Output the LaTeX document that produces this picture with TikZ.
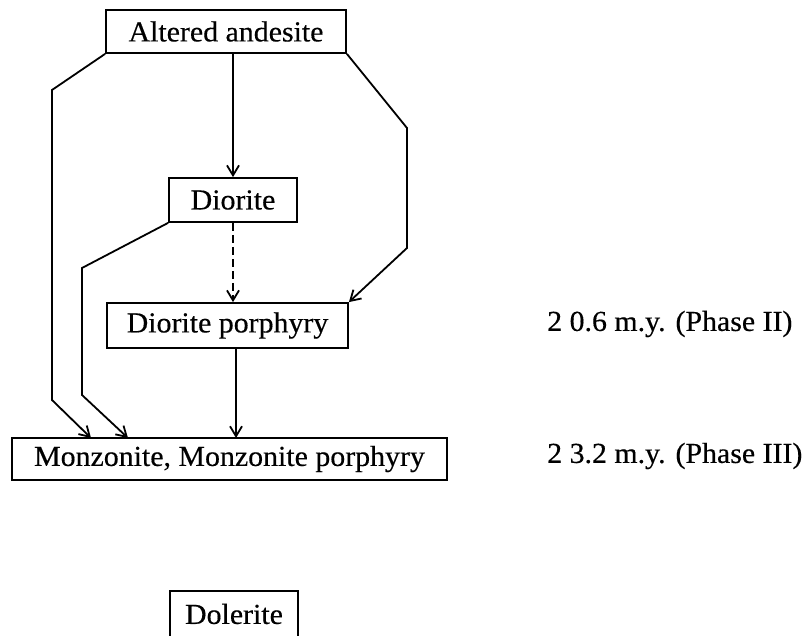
\documentclass[tikz,border=0pt]{standalone}
\usepackage{fontspec}
\setmainfont[FakeStretch=1.03,FakeBold=0.4]{Liberation Serif}
\usetikzlibrary{arrows.meta}
\tikzset{
  roche/.style={draw, line width=1.8pt, inner sep=0pt, font=\fontsize{29}{32}\selectfont},
  lien/.style={line width=1.8pt, -{Straight Barb[length=10pt,width=12pt,line width=1.8pt]}},
  age/.style={anchor=west, inner sep=0pt, font=\fontsize{29}{32}\selectfont}
}
\begin{document}
\begin{tikzpicture}[x=1pt,y=-1pt]
\clip (0,0) rectangle (808,636);
% Roches
\node[roche, minimum width=240pt, minimum height=43pt] (alt) at (226,31.5) {Altered andesite};
\node[roche, minimum width=128pt, minimum height=44pt] (dio) at (233,200) {Diorite};
\node[roche, minimum width=241pt, minimum height=45pt] (por) at (227.5,325.5) {Diorite porphyry};
\node[roche, minimum width=435pt, minimum height=42pt] (monz) at (229.5,459) {Monzonite, Monzonite porphyry};
\node[roche, minimum width=128pt, minimum height=46pt] (dol) at (234,614) {Dolerite};
% Ages
\node[age] (ageII) at (547,324) {2 0.6 m.y. (Phase II)};
\node[age] (ageIII) at (547,456) {2 3.2 m.y. (Phase III)};
% Points d'arrivee
\coordinate (m1) at (91,438);
\coordinate (m2) at (128,438);
\coordinate (m3) at (236,438);
% Fleches
\draw[lien] (alt.south -| dio.north) -- (dio.north);
\draw[lien] (alt.south west) -- (52,90) -- (52,400) -- (m1);
\draw[lien] (dio.south west) -- (82,268) -- (82,395) -- (m2);
\draw[lien, dash pattern=on 8pt off 4pt] (dio.south) -- (dio.south |- por.north);
\draw[lien] (alt.south east) -- (407,128) -- (407,248) -- (por.north east);
\draw[lien] (m3 |- por.south) -- (m3);
\end{tikzpicture}
\end{document}
